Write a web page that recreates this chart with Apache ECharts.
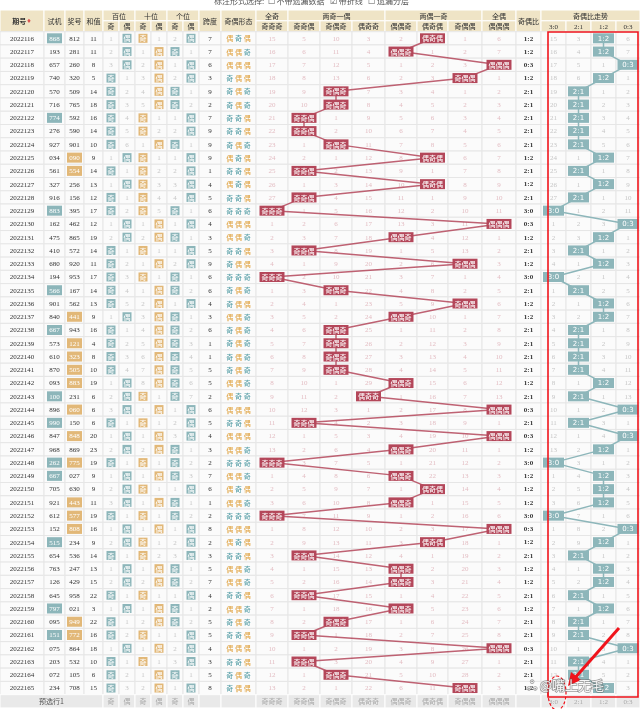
<!DOCTYPE html>
<html><head><meta charset="utf-8">
<script src="https://cdn.jsdelivr.net/npm/echarts@6/dist/echarts.min.js"></script>
<style>html,body{margin:0;padding:0;background:#fff}#c{width:640px;height:709px}</style>
</head><body><div id="c"></div>
<script>
// ---------------- data ----------------
const issues = ['2022116','2022117','2022118','2022119','2022120','2022121','2022122','2022123','2022124','2022125',
  '2022126','2022127','2022128','2022129','2022130','2022131','2022132','2022133','2022134','2022135',
  '2022136','2022137','2022138','2022139','2022140','2022141','2022142','2022143','2022144','2022145',
  '2022146','2022147','2022148','2022149','2022150','2022151','2022152','2022153','2022154','2022155',
  '2022156','2022157','2022158','2022159','2022160','2022161','2022162','2022163','2022164','2022165'];
const trialNumbers = ['868','193','657','740','570','716','774','276','927','034',
  '561','327','916','883','162','475','410','680','194','566',
  '901','840','667','573','610','870','093','100','896','990',
  '847','968','262','667','705','921','612','152','515','654',
  '763','126','645','797','095','151','075','203','072','234'];
const drawNumbers = ['812','281','260','320','509','765','592','590','901','090',
  '554','256','156','395','462','865','572','920','953','167',
  '562','441','943','121','323','505','883','231','060','150',
  '848','869','775','027','630','443','577','808','234','536',
  '247','429','958','021','949','772','864','532','105','708'];
const sumValues = [11,11,8,5,14,18,16,14,10,9, 14,13,12,17,12,19,14,11,17,14,
  13,9,16,4,8,10,19,6,6,6, 20,23,19,9,9,11,19,16,9,14, 13,15,22,3,22,16,18,10,6,15];
const spanValues = [7,7,6,3,9,2,7,9,9,9, 1,4,5,6,4,3,5,9,6,6, 4,3,6,1,1,5,5,2,6,5,
  4,3,2,7,6,1,2,8,2,3, 5,7,4,2,5,5,4,3,5,8];
const patternNames = ['奇奇奇','奇奇偶','奇偶奇','偶奇奇','偶偶奇','偶奇偶','奇偶偶','偶偶偶'];
const patternGroups = ['全奇','两奇一偶','两偶一奇','全偶'];
const ratioNames = ['3:0','2:1','1:2','0:3'];
const positionNames = ['百位','十位','个位'];
// omission counts carried in from before the first row (read from the first row)
const digitOmissionBefore = [[0,0],[0,0],[1,0]];
const patternOmissionBefore = [14,4,9,2,1,0,0,5];
const ratioOmissionBefore = [14,2,0,5];
const footerLabel = '预选行1';
const topText = '标注形式选择:  ☐ 不带遗漏数据   ☑ 带折线   ☐ 遗漏分层';

// ---------------- layout / style ----------------
const colEdges = [0,44,65,84,103,119,135,151,167,183,199,221,256,288,320,352,385,417,448,482,516,541,566,591,616,640];
const ROW_PX = 13.26;
const HDR = 1.634;
const YMIN = -0.5 - HDR, YMID = -0.5 - HDR / 2, YTOP = -0.5;
const N = issues.length;
const YMAX = N + 0.5;
const FONT = '"Liberation Serif","Noto Sans CJK SC",serif';
const CJK = '"Noto Sans CJK SC","Liberation Serif",sans-serif';
const C = {
  hdrBg:'#efe4c6', bodyBg:'#fbfbfb', border:'#e6e6e6', text:'#333', grey:'#c6c6c6', pink:'#e3bcc2',
  teal:'#8db6ba', orange:'#e2b878', oddTxt:'#4f9aa3', evenTxt:'#e0a342', red:'#b4475a', footBg:'#e9e9e9'
};

// ---------------- derived ----------------
const isOdd = ch => (+ch) % 2 === 1;
const patterns = drawNumbers.map(s => s.split('').map(c => isOdd(c) ? '奇' : '偶').join(''));
const ratios = drawNumbers.map(s => { const o = s.split('').filter(isOdd).length; return o + ':' + (3 - o); });
const hasPair = s => new Set(s.split('')).size < 3;
const colCenter = i => (colEdges[i] + colEdges[i + 1]) / 2;

const cells = [];
function cell(c0, c1, y0, y1, o) { cells.push(Object.assign({x0: colEdges[c0], x1: colEdges[c1 + 1], y0, y1}, o)); }
const f7 = '7px ' + FONT, f7b = 'bold 7px ' + FONT, c7 = '7px ' + CJK, c7b = 'bold 7px ' + CJK;

// header
const H = {bg: C.hdrBg, border: '#fff', color: C.text, font: c7};
cell(0,0,YMIN,YTOP,Object.assign({},H,{text:'{b|期号}{r|♦}', rich:{b:{font:c7b,fill:'#333'}, r:{font:'6px DejaVu Sans',fill:'#d9534f'}}}));
cell(1,1,YMIN,YTOP,Object.assign({},H,{text:'试机'}));
cell(2,2,YMIN,YTOP,Object.assign({},H,{text:'奖号'}));
cell(3,3,YMIN,YTOP,Object.assign({},H,{text:'和值'}));
positionNames.forEach((p, k) => {
  cell(4+2*k, 5+2*k, YMIN, YMID, Object.assign({},H,{text:p}));
  cell(4+2*k, 4+2*k, YMID, YTOP, Object.assign({},H,{text:'奇'}));
  cell(5+2*k, 5+2*k, YMID, YTOP, Object.assign({},H,{text:'偶'}));
});
cell(10,10,YMIN,YTOP,Object.assign({},H,{text:'跨度'}));
cell(11,11,YMIN,YTOP,Object.assign({},H,{text:'奇偶形态'}));
const groupSpans = [[12,12],[13,15],[16,18],[19,19]];
groupSpans.forEach((g, k) => cell(g[0], g[1], YMIN, YMID, Object.assign({},H,{text:patternGroups[k]})));
patternNames.forEach((p, k) => cell(12+k, 12+k, YMID, YTOP, Object.assign({},H,{text:p})));
cell(20,20,YMIN,YTOP,Object.assign({},H,{text:'奇偶比'}));
cell(21,24,YMIN,YMID,Object.assign({},H,{text:'奇偶比走势'}));
ratioNames.forEach((p, k) => cell(21+k, 21+k, YMID, YTOP, Object.assign({},H,{text:p, font:f7})));

// body
const B = {bg: C.bodyBg, border: C.border, color: C.text, font: f7};
const digitOm = digitOmissionBefore.map(a => a.slice());
const patOm = patternOmissionBefore.slice();
const ratOm = ratioOmissionBefore.slice();
const patternLabels = [], ratioLabels = [];
for (let r = 0; r < N; r++) {
  const y0 = r - 0.5, y1 = r + 0.5;
  cell(0,0,y0,y1,Object.assign({},B,{text:issues[r]}));
  cell(1,1,y0,y1,Object.assign({},B, hasPair(trialNumbers[r]) ? {text:trialNumbers[r], badge:C.teal, bw:15, bh:10, color:'#fff'} : {text:trialNumbers[r]}));
  cell(2,2,y0,y1,Object.assign({},B, hasPair(drawNumbers[r]) ? {text:drawNumbers[r], badge:C.orange, bw:15, bh:10, color:'#fff'} : {text:drawNumbers[r]}));
  cell(3,3,y0,y1,Object.assign({},B,{text:String(sumValues[r])}));
  drawNumbers[r].split('').forEach((d, k) => {
    const hit = isOdd(d) ? 0 : 1;
    for (let j = 0; j < 2; j++) {
      if (j === hit) {
        digitOm[k][j] = 0;
        cell(4+2*k+j, 4+2*k+j, y0, y1, Object.assign({},B,{text: j === 0 ? '奇' : '偶', font: c7, badge: k === 1 ? C.orange : C.teal, bw: 9, bh: 9, color:'#fff'}));
      } else {
        digitOm[k][j] += 1;
        cell(4+2*k+j, 4+2*k+j, y0, y1, Object.assign({},B,{text:String(digitOm[k][j]), color:C.grey}));
      }
    }
  });
  cell(10,10,y0,y1,Object.assign({},B,{text:String(spanValues[r])}));
  cell(11,11,y0,y1,Object.assign({},B,{
    text: patterns[r].split('').map(ch => ch === '奇' ? '{o|奇}' : '{e|偶}').join(' '),
    rich: {o:{font:c7, fill:C.oddTxt}, e:{font:c7, fill:C.evenTxt}}}));
  const pi = patternNames.indexOf(patterns[r]);
  patternNames.forEach((p, k) => {
    if (k === pi) { patOm[k] = 0; cell(12+k,12+k,y0,y1,Object.assign({},B)); patternLabels.push([colCenter(12+k), r, p]); }
    else { patOm[k] += 1; cell(12+k,12+k,y0,y1,Object.assign({},B,{text:String(patOm[k]), color:C.pink})); }
  });
  cell(20,20,y0,y1,Object.assign({},B,{text:ratios[r], font:f7b}));
  const ri = ratioNames.indexOf(ratios[r]);
  ratioNames.forEach((p, k) => {
    if (k === ri) { ratOm[k] = 0; cell(21+k,21+k,y0,y1,Object.assign({},B)); ratioLabels.push([colCenter(21+k), r, p]); }
    else { ratOm[k] += 1; cell(21+k,21+k,y0,y1,Object.assign({},B,{text:String(ratOm[k]), color:C.grey})); }
  });
}
// footer
const F = {bg: C.footBg, border: '#fff', color: '#aaa', font: c7};
const fy0 = N - 0.5, fy1 = N + 0.5;
cell(0,3,fy0,fy1,Object.assign({},F,{text:footerLabel, color:'#555'}));
for (let k = 0; k < 6; k++) cell(4+k,4+k,fy0,fy1,Object.assign({},F,{text: k % 2 ? '偶' : '奇'}));
cell(10,10,fy0,fy1,Object.assign({},F)); cell(11,11,fy0,fy1,Object.assign({},F));
patternNames.forEach((p, k) => cell(12+k,12+k,fy0,fy1,Object.assign({},F,{text:p})));
cell(20,20,fy0,fy1,Object.assign({},F));
ratioNames.forEach((p, k) => cell(21+k,21+k,fy0,fy1,Object.assign({},F,{text:p, font:f7})));

function rectOf(api, x0, x1, y0, y1) {
  const a = api.coord([x0, y0]), b = api.coord([x1, y1]);
  return {x: Math.min(a[0], b[0]), y: Math.min(a[1], b[1]), width: Math.abs(b[0] - a[0]), height: Math.abs(b[1] - a[1])};
}
function renderCell(params, api) {
  const c = cells[params.dataIndex];
  const R = rectOf(api, api.value(0), api.value(1), api.value(2), api.value(3));
  const cx = R.x + R.width / 2, cy = R.y + R.height / 2;
  const ch = [{type:'rect', shape:R, style:{fill:c.bg, stroke:c.border, lineWidth:1}}];
  if (c.badge) ch.push({type:'rect', shape:{x:cx - c.bw/2, y:cy - c.bh/2, width:c.bw, height:c.bh}, style:{fill:c.badge}});
  if (c.text) ch.push({type:'text', style:{x:cx, y:cy + 0.5, text:c.text, align:'center', verticalAlign:'middle', fill:c.color, font:c.font, rich:c.rich}});
  return {type:'group', children:ch};
}
function makeLabelRenderer(list, bg, w) {
  return function (params, api) {
    const p = api.coord([api.value(0), api.value(1)]);
    return {type:'group', children:[
      {type:'rect', shape:{x:p[0] - w/2, y:p[1] - 5, width:w, height:10}, style:{fill:bg}},
      {type:'text', style:{x:p[0], y:p[1] + 0.5, text:list[params.dataIndex][2], align:'center', verticalAlign:'middle', fill:'#fff', font: (bg === C.red ? c7 : '7px DejaVu Sans')}}
    ]};
  };
}

const chart = echarts.init(document.getElementById('c'), null, {renderer:'canvas'});
chart.setOption({
  animation: false,
  grid: {left:0, right:0, top:10, height: (YMAX - YMIN) * ROW_PX},
  xAxis: {type:'value', min:0, max:640, show:false},
  yAxis: {type:'value', min:YMIN, max:YMAX, inverse:true, show:false},
  graphic: [
    {type:'text', left:214, top:-3, z:100, style:{text:topText, fill:'#555', font:'8px ' + CJK}},
    {type:'rect', z:100, shape:{x:548, y:32, width:90, height:665}, style:{fill:'none', stroke:'#f0141c', lineWidth:1.6}},
    {type:'line', z:100, shape:{x1:619, y1:628, x2:574, y2:679}, style:{stroke:'#f0141c', lineWidth:3}},
    {type:'polygon', z:100, shape:{points:[[568,686],[571,672],[581,680]]}, style:{fill:'#f0141c'}},
    {type:'ellipse', z:100, shape:{cx:557, cy:693, rx:9, ry:17}, style:{fill:'none', stroke:'#f0141c', lineWidth:1.2, lineDash:[3,2]}},
    {type:'text', z:101, left:526, top:678, style:{text:'ஃ @嘴上无毛', fill:'rgba(255,255,255,0.92)', stroke:'rgba(90,90,90,0.6)', lineWidth:1.5, font:'13px ' + CJK}}
  ],
  series: [
    {type:'custom', z:1, renderItem:renderCell, encode:{x:[0,1], y:[2,3]}, clip:false,
      data: cells.map(c => [c.x0, c.x1, c.y0, c.y1])},
    {type:'line', z:2, symbol:'none', silent:true, lineStyle:{color:C.red, width:1.5, opacity:0.85},
      data: patternLabels.map(d => [d[0], d[1]])},
    {type:'line', z:2, symbol:'none', silent:true, lineStyle:{color:C.teal, width:1.5},
      data: ratioLabels.map(d => [d[0], d[1]])},
    {type:'custom', z:3, renderItem:makeLabelRenderer(patternLabels, C.red, 25), encode:{x:0, y:1}, clip:false,
      data: patternLabels.map(d => [d[0], d[1]])},
    {type:'custom', z:3, renderItem:makeLabelRenderer(ratioLabels, C.teal, 21), encode:{x:0, y:1}, clip:false,
      data: ratioLabels.map(d => [d[0], d[1]])}
  ]
});
</script></body></html>
